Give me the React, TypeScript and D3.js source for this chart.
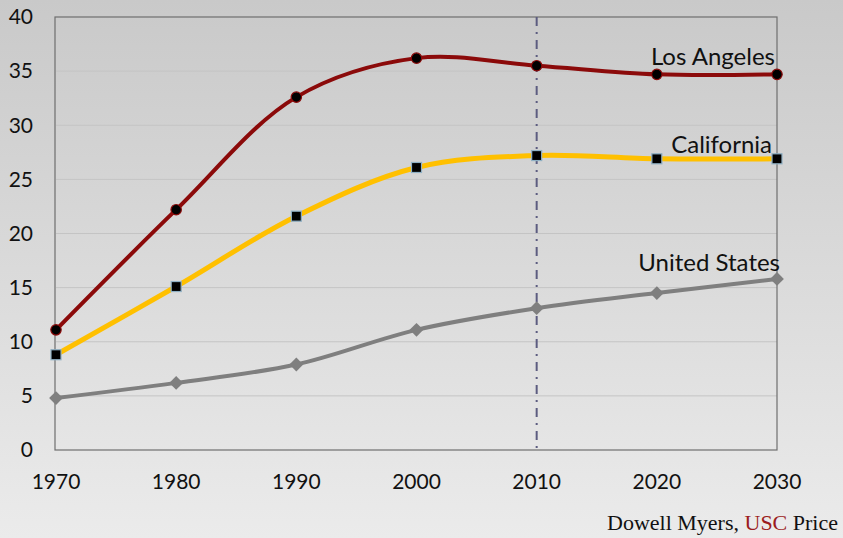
import { useEffect, useRef } from "react";
import * as d3 from "d3";

const years = [1970, 1980, 1990, 2000, 2010, 2020, 2030];
const losAngeles = [11.1, 22.2, 32.6, 36.2, 35.5, 34.7, 34.7];
const california = [8.8, 15.1, 21.6, 26.1, 27.2, 26.9, 26.9];
const unitedStates = [4.8, 6.2, 7.9, 11.1, 13.1, 14.5, 15.8];
const yTicks = [0, 5, 10, 15, 20, 25, 30, 35, 40];
const seriesNames = ["Los Angeles", "California", "United States"];
const markerYear = 2010;

export default function App() {
  const ref = useRef<SVGSVGElement | null>(null);

  useEffect(() => {
    if (!ref.current) return;
    const svg = d3.select(ref.current);
    svg.selectAll("*").remove();

    const width = 843;
    const height = 538;
    const margin = { top: 17, right: 66, bottom: 88, left: 56 };

    const x = d3
      .scaleLinear()
      .domain([1970, 2030])
      .range([margin.left, width - margin.right]);
    const y = d3
      .scaleLinear()
      .domain([0, 40])
      .range([height - margin.bottom, margin.top]);

    // background gradient
    const defs = svg.append("defs");
    const grad = defs
      .append("linearGradient")
      .attr("id", "bg")
      .attr("x1", 0)
      .attr("y1", 0)
      .attr("x2", 0)
      .attr("y2", 1);
    grad.append("stop").attr("offset", "0%").attr("stop-color", "#c9c9c9");
    grad.append("stop").attr("offset", "100%").attr("stop-color", "#ebebeb");
    svg
      .append("rect")
      .attr("width", width)
      .attr("height", height)
      .attr("fill", "url(#bg)");

    // gridlines
    svg
      .append("g")
      .selectAll("line")
      .data(yTicks.slice(1, -1))
      .join("line")
      .attr("x1", x(1970))
      .attr("x2", x(2030))
      .attr("y1", (d) => y(d))
      .attr("y2", (d) => y(d))
      .attr("stroke", "#c4c4c4")
      .attr("stroke-width", 1);

    // frame
    svg
      .append("rect")
      .attr("x", x(1970) - 1)
      .attr("y", y(40))
      .attr("width", x(2030) - x(1970) + 1)
      .attr("height", y(0) - y(40))
      .attr("fill", "none")
      .attr("stroke", "#6e6e6e")
      .attr("stroke-width", 1.2);

    // 2010 dash-dot line
    svg
      .append("line")
      .attr("x1", x(markerYear))
      .attr("x2", x(markerYear))
      .attr("y1", y(40))
      .attr("y2", y(0))
      .attr("stroke", "#5c5c80")
      .attr("stroke-width", 2)
      .attr("stroke-dasharray", "9,6,2,6");

    // tick labels
    const font = "Lato, 'Open Sans', sans-serif";
    svg
      .append("g")
      .selectAll("text")
      .data(yTicks)
      .join("text")
      .attr("x", 33)
      .attr("y", (d) => y(d))
      .attr("dy", "0.35em")
      .attr("text-anchor", "end")
      .attr("font-family", font)
      .attr("font-size", 21)
      .attr("fill", "#111")
      .text((d) => d);

    svg
      .append("g")
      .selectAll("text")
      .data(years)
      .join("text")
      .attr("x", (d) => x(d))
      .attr("y", 482)
      .attr("dy", "0.35em")
      .attr("text-anchor", "middle")
      .attr("font-family", font)
      .attr("font-size", 21)
      .attr("fill", "#111")
      .text((d) => d);

    const line = d3
      .line<number>()
      .x((_, i) => x(years[i]))
      .y((d) => y(d))
      .curve(d3.curveCatmullRom.alpha(0.5));

    // United States
    svg
      .append("path")
      .attr("d", line(unitedStates))
      .attr("fill", "none")
      .attr("stroke", "#7f7f7f")
      .attr("stroke-width", 4);
    svg
      .append("g")
      .selectAll("path")
      .data(unitedStates)
      .join("path")
      .attr("d", d3.symbol(d3.symbolSquare, 95)())
      .attr(
        "transform",
        (d, i) => `translate(${x(years[i])},${y(d)}) rotate(45)`
      )
      .attr("fill", "#7f7f7f");

    // California
    svg
      .append("path")
      .attr("d", line(california))
      .attr("fill", "none")
      .attr("stroke", "#ffc000")
      .attr("stroke-width", 5);
    svg
      .append("g")
      .selectAll("rect")
      .data(california)
      .join("rect")
      .attr("x", (_, i) => x(years[i]) - 5)
      .attr("y", (d) => y(d) - 5)
      .attr("width", 10)
      .attr("height", 10)
      .attr("fill", "#000")
      .attr("stroke", "#8fb0c4")
      .attr("stroke-width", 1.2);

    // Los Angeles
    svg
      .append("path")
      .attr("d", line(losAngeles))
      .attr("fill", "none")
      .attr("stroke", "#8b0a0a")
      .attr("stroke-width", 4);
    svg
      .append("g")
      .selectAll("circle")
      .data(losAngeles)
      .join("circle")
      .attr("cx", (_, i) => x(years[i]))
      .attr("cy", (d) => y(d))
      .attr("r", 5.2)
      .attr("fill", "#000")
      .attr("stroke", "#8b0a0a")
      .attr("stroke-width", 1.2);

    // series labels
    const last = years.length - 1;
    const labelData = [
      { name: seriesNames[0], v: losAngeles[last], dx: -2, dy: -9 },
      { name: seriesNames[1], v: california[last], dx: -5, dy: -6 },
      { name: seriesNames[2], v: unitedStates[last], dx: 3, dy: -8 },
    ];
    svg
      .append("g")
      .selectAll("text")
      .data(labelData)
      .join("text")
      .attr("x", (d) => x(2030) + d.dx)
      .attr("y", (d) => y(d.v) + d.dy)
      .attr("text-anchor", "end")
      .attr("font-family", font)
      .attr("font-size", 24)
      .attr("fill", "#111")
      .text((d) => d.name);

    // credit
    const credit = svg
      .append("text")
      .attr("x", 838)
      .attr("y", 530)
      .attr("text-anchor", "end")
      .attr("font-family", "'Liberation Serif', serif")
      .attr("font-size", 22)
      .attr("fill", "#111");
    credit.append("tspan").text("Dowell Myers, ");
    credit.append("tspan").attr("fill", "#9b1c20").text("USC");
    credit.append("tspan").text(" Price");
  }, []);

  return (
    <div style={{ position: "fixed", left: 0, top: 0 }}>
      <svg ref={ref} width={843} height={538} style={{ display: "block" }} />
    </div>
  );
}
